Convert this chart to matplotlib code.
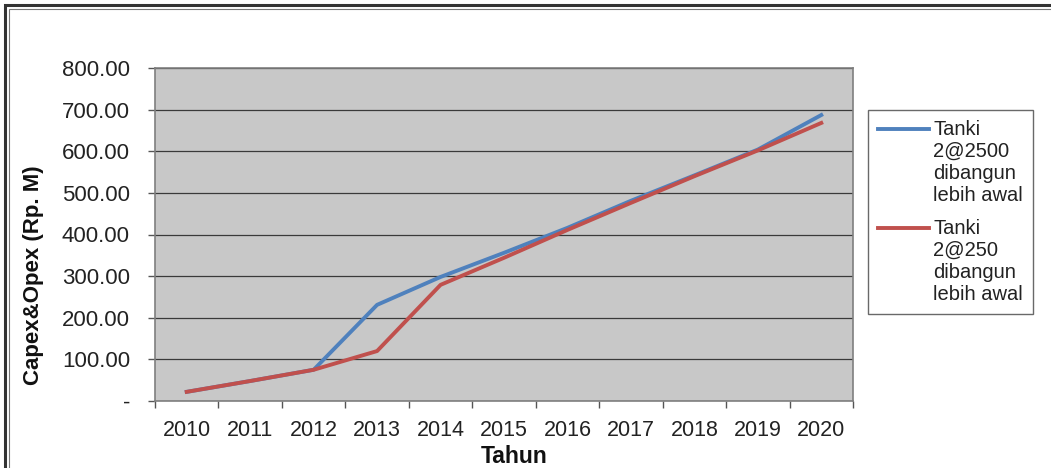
import numpy as np
import matplotlib
matplotlib.use('Agg')
import matplotlib.pyplot as plt
from matplotlib.legend_handler import HandlerLine2D
from matplotlib.ticker import FuncFormatter, FixedLocator
from matplotlib.patches import Rectangle

plt.rcParams['font.family'] = ['Liberation Sans', 'DejaVu Sans']

# data
years = ['2010', '2011', '2012', '2013', '2014', '2015', '2016', '2017', '2018', '2019', '2020']
tanki_2500 = [22, 48, 75, 231, 298, 356, 416, 481, 542, 604, 687]
tanki_250 = [22, 48, 75, 120, 279, 344, 411, 476, 540, 602, 668]
series_names = ['Tanki\n2@2500\ndibangun\nlebih awal', 'Tanki\n2@250\ndibangun\nlebih awal']

BLUE = '#4F81BD'
RED = '#C0504D'
LEG_FS = 14.5
LEG_LS = 1.2
LINE_STEP = 15.8  # points between legend text lines


class TopLine(HandlerLine2D):
    # put the legend key next to the first text line (excel style)
    def create_artists(self, legend, orig_handle, xdescent, ydescent, width, height, fontsize, trans):
        arts = super().create_artists(legend, orig_handle, xdescent, ydescent, width, height, fontsize, trans)
        for a in arts:
            a.set_ydata(np.asarray(a.get_ydata(), dtype=float) + 1.5 * LINE_STEP + 0.8)
            xd = np.asarray(a.get_xdata(), dtype=float)
            if len(xd) == 2:
                a.set_xdata([xd[0] + 4.3, xd[1]])
        return arts


fig = plt.figure(figsize=(10.51, 4.68), dpi=100)
ax = fig.add_axes([155 / 1051, 1 - 401 / 468, 698 / 1051, 333 / 468])
ax.set_facecolor('#C8C8C8')

x = np.arange(len(years))
ax.plot(x, tanki_2500, color=BLUE, lw=2.8, label=series_names[0], solid_joinstyle='round')
ax.plot(x, tanki_250, color=RED, lw=2.8, label=series_names[1], solid_joinstyle='round')

ax.set_xlim(-0.5, len(years) - 0.5)
ax.set_ylim(0, 800)
ax.set_yticks(np.arange(0, 801, 100))
ax.yaxis.set_major_formatter(FuncFormatter(lambda v, p: '-' if v == 0 else '%.2f' % v))
ax.grid(axis='y', color='#3A3A3A', lw=0.9)
ax.set_axisbelow(True)

ax.xaxis.set_major_locator(FixedLocator(np.arange(-0.5, len(years), 1.0)))
ax.xaxis.set_major_formatter(plt.NullFormatter())
ax.xaxis.set_minor_locator(FixedLocator(x))
ax.set_xticklabels(years, minor=True)
ax.tick_params(axis='x', which='minor', length=0, pad=14, labelsize=15.5, labelcolor='#222222')
ax.tick_params(axis='x', which='major', length=5, width=1, color='#555555')
ax.tick_params(axis='y', length=5, width=1, color='#555555', labelsize=16, pad=13, labelcolor='#222222')

for s in ax.spines.values():
    s.set_color('#7F7F7F')
    s.set_linewidth(1.2)

ax.set_xlabel('Tahun', fontsize=16.5, fontweight='bold', color='#111111', va='top')
ax.xaxis.set_label_coords((514 - 155) / 698, -0.132)
ax.set_ylabel('Capex&Opex (Rp. M)', fontsize=16, fontweight='bold', color='#111111')
ax.yaxis.set_label_coords(-0.159, (401 - 275) / 333)

leg = fig.legend(handles=ax.get_lines(), loc='upper left', bbox_to_anchor=(868 / 1051, 1 - 110 / 468),
                 borderaxespad=0, fontsize=LEG_FS, frameon=True, fancybox=False, edgecolor='#444444',
                 handlelength=2.55, handletextpad=0.2, labelspacing=0.7, borderpad=0.5,
                 handler_map={matplotlib.lines.Line2D: TopLine()})
leg.get_frame().set_linewidth(1.0)
for t in leg.get_texts():
    t.set_color('#222222')
    t.set_linespacing(LEG_LS)

# outer frame of the chart object
fig.add_artist(Rectangle((5 / 1051, -0.2), 1.2, 1 - 5 / 468 + 0.2, transform=fig.transFigure,
                         fill=False, ec='#333333', lw=2.2))
fig.add_artist(Rectangle((9 / 1051, -0.2), 1.2, 1 - 9 / 468 + 0.2, transform=fig.transFigure,
                         fill=False, ec='#777777', lw=0.8))

plt.savefig('out.png', dpi=100)
plt.close()
